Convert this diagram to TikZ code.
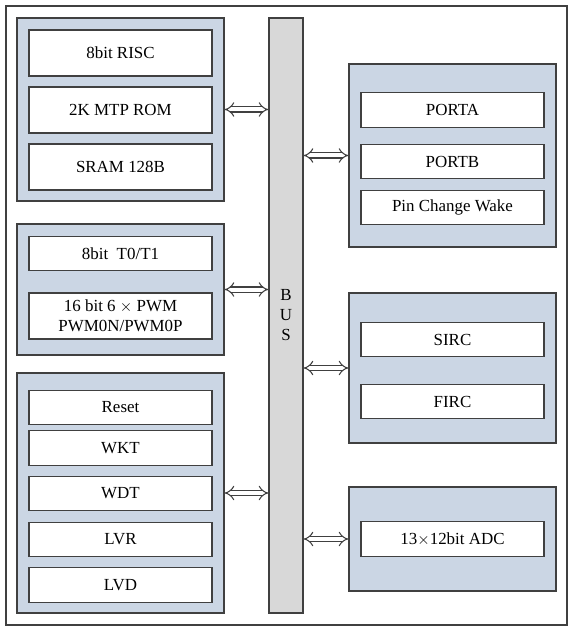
\documentclass[tikz,border=0pt]{standalone}
\usepackage{fontspec}
\setmainfont{Liberation Serif}
\usetikzlibrary{arrows.meta}

\definecolor{grpfill}{RGB}{203,214,228}
\definecolor{busfill}{RGB}{216,216,216}
\definecolor{edgegray}{RGB}{64,64,64}

\tikzset{
  grp/.style={draw=edgegray, fill=grpfill, line width=0.9pt, minimum width=155.25pt, inner sep=0pt},
  blk/.style={draw=edgegray, fill=white, line width=0.9pt, minimum width=137.25pt, minimum height=26pt, inner sep=0pt, font=\fontsize{12.7}{15}\selectfont},
  busbar/.style={draw=edgegray, fill=busfill, line width=0.9pt, minimum width=25.5pt, minimum height=446.25pt, inner sep=0pt, align=center, font=\fontsize{12.7}{15}\selectfont},
  busarrow/.style={draw=edgegray, double=white, double distance=3pt, line width=0.8pt, {Implies}-{Implies}}
}

\begin{document}
\begin{tikzpicture}[x=0.75pt,y=0.75pt,yscale=-1,xscale=1]
\useasboundingbox (0,0) rectangle (575,634);

% Frame
\draw [draw=edgegray, line width=0.9pt] (6,6) rectangle (567,625);

% Bus
\node [busbar] (bus) at (286,315.5) {B\\U\\S};

% Group: core
\node [grp, minimum height=137.25pt] (core) at (120.5,109.5) {};
\node [blk, minimum height=34.5pt] (risc) at (120.5,53) {8bit RISC};
\node [blk, minimum height=34.5pt] (rom) at (120.5,110) {2K MTP ROM};
\node [blk, minimum height=34.5pt] (sram) at (120.5,167) {SRAM 128B};

% Group: timer
\node [grp, minimum height=98.25pt] (timer) at (120.5,289.5) {};
\node [blk] (tmr) at (120.5,253.5) {8bit\ \ T0/T1};
\node [blk, minimum height=34.5pt, align=center] (pwm) at (120.5,316) {16 bit 6 $\times$ PWM\\PWM0N/PWM0P};

% Group: system
\node [grp, minimum height=180pt] (sys) at (120.5,493) {};
\node [blk] (rst) at (120.5,407.5) {Reset};
\node [blk] (wkt) at (120.5,448) {WKT};
\node [blk] (wdt) at (120.5,493.5) {WDT};
\node [blk] (lvr) at (120.5,539.5) {LVR};
\node [blk] (lvd) at (120.5,585) {LVD};

% Group: ports
\node [grp, minimum height=137.25pt] (ports) at (452.5,155.5) {};
\node [blk] (pa) at (452.5,110) {PORTA};
\node [blk] (pb) at (452.5,161.5) {PORTB};
\node [blk] (pcw) at (452.5,207.5) {Pin Change Wake};

% Group: clocks
\node [grp, minimum height=112.5pt] (clk) at (452.5,368) {};
\node [blk] (sirc) at (452.5,339.5) {SIRC};
\node [blk] (firc) at (452.5,401.5) {FIRC};

% Group: adc
\node [grp, minimum height=78pt] (adcgrp) at (452.5,539) {};
\node [blk] (adc) at (452.5,539) {13$\times$12bit ADC};

% Connection
\draw [busarrow] (core.east) -- (core.east -| bus.west);
\draw [busarrow] (timer.east) -- (timer.east -| bus.west);
\draw [busarrow] (sys.east) -- (sys.east -| bus.west);
\draw [busarrow] (ports.west -| bus.east) -- (ports.west);
\draw [busarrow] (clk.west -| bus.east) -- (clk.west);
\draw [busarrow] (adcgrp.west -| bus.east) -- (adcgrp.west);

\end{tikzpicture}
\end{document}
